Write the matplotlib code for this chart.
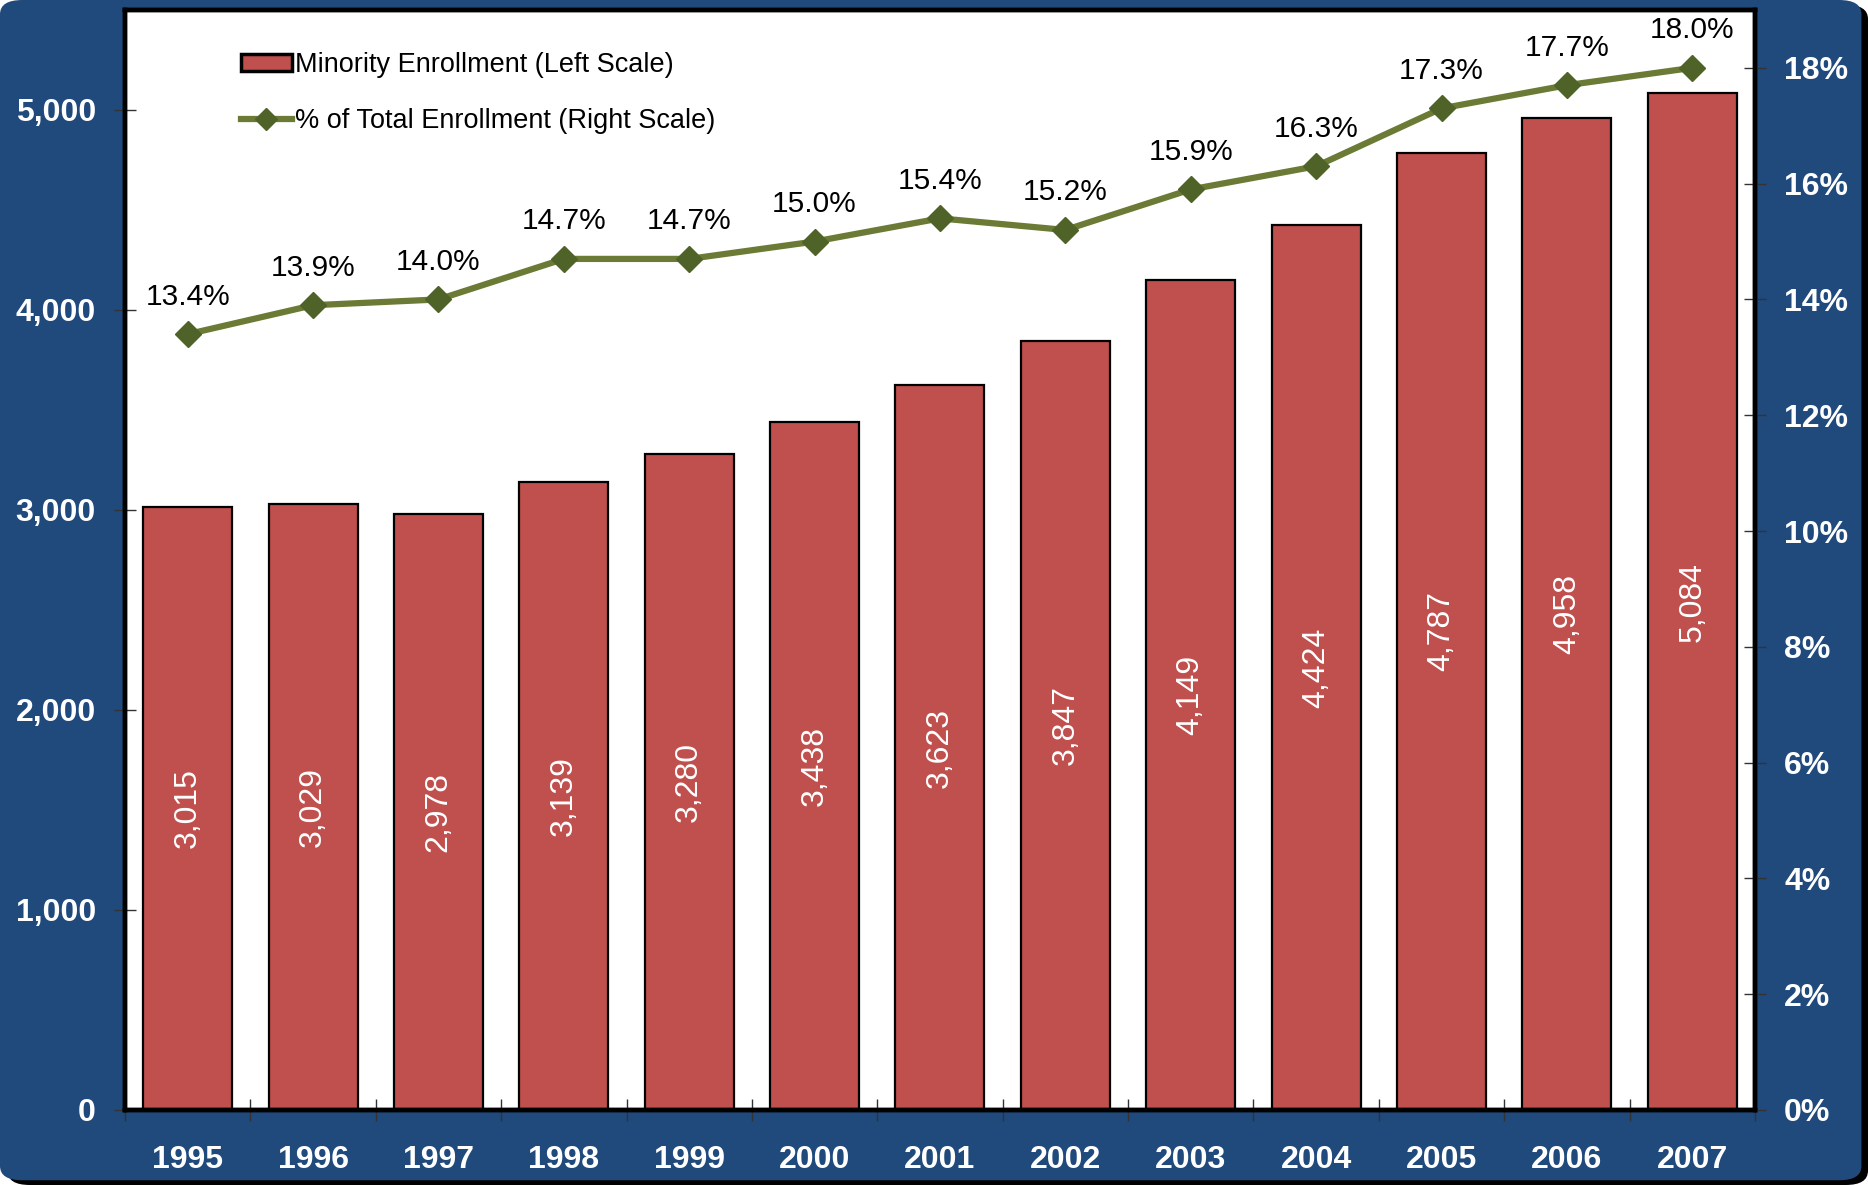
import matplotlib.pyplot as plt
from matplotlib.patches import FancyBboxPatch, Patch
from matplotlib.lines import Line2D
from matplotlib.ticker import FuncFormatter, FixedLocator
import numpy as np

plt.rcParams["font.family"] = ["Liberation Sans", "DejaVu Sans"]

years = ["1995", "1996", "1997", "1998", "1999", "2000", "2001",
         "2002", "2003", "2004", "2005", "2006", "2007"]
enrollment = [3015, 3029, 2978, 3139, 3280, 3438, 3623, 3847, 4149, 4424, 4787, 4958, 5084]
pct_total = [13.4, 13.9, 14.0, 14.7, 14.7, 15.0, 15.4, 15.2, 15.9, 16.3, 17.3, 17.7, 18.0]

BG = "#20497C"
BAR = "#C0504D"
LINE = "#6B7A35"
MARK = "#4F6228"

fig = plt.figure(figsize=(18.68, 11.85), dpi=100, facecolor="white")
# rounded dark-blue panel with a thin shadow
fig.patches.append(FancyBboxPatch((0.004, 0.0), 0.996, 0.996, boxstyle="round,pad=0,rounding_size=0.012",
                                  transform=fig.transFigure, facecolor="black", edgecolor="none", zorder=-20))
fig.patches.append(FancyBboxPatch((0.0, 0.004), 0.9965, 0.996, boxstyle="round,pad=0,rounding_size=0.012",
                                  transform=fig.transFigure, facecolor=BG, edgecolor="none", zorder=-10))

ax = fig.add_axes([0.0669, 0.0633, 0.8726, 0.9283])
ax2 = ax.twinx()
ax2.set_zorder(ax.get_zorder() + 1)
ax.set_facecolor("white")
ax2.patch.set_visible(False)

x = np.arange(len(years))
ax.bar(x, enrollment, width=0.71, color=BAR, edgecolor="black", linewidth=1.6, zorder=2)
for xi, v in zip(x, enrollment):
    ax.text(xi, v / 2, "{:,}".format(v), rotation=90, ha="center", va="center",
            color="white", fontsize=23, zorder=3)

ax.set_xlim(-0.5, len(years) - 0.5)
ax.set_ylim(0, 5500)
ax.set_yticks([0, 1000, 2000, 3000, 4000, 5000])
ax.yaxis.set_major_formatter(FuncFormatter(lambda v, p: "{:,.0f}".format(v)))

ax.xaxis.set_major_locator(FixedLocator(np.arange(-0.5, len(years), 1.0)))
ax.xaxis.set_major_formatter(FuncFormatter(lambda v, p: ""))
ax.set_xticks(x, minor=True)
ax.set_xticklabels(years, minor=True)
ax.tick_params(axis="x", which="major", direction="inout", length=16, width=1, color="#333333")
ax.tick_params(axis="x", which="minor", length=0, pad=25, labelsize=23, labelcolor="white")
for lab in ax.get_xticklabels(minor=True):
    lab.set_fontweight("bold")
ax.tick_params(axis="y", direction="inout", length=16, width=1, color="#333333",
               pad=13, labelsize=23, labelcolor="white")
for lab in ax.get_yticklabels():
    lab.set_fontweight("bold")

ax2.plot(x, pct_total, color=LINE, linewidth=4.5, marker="D", markersize=13,
         markerfacecolor=MARK, markeredgecolor=MARK, zorder=3)
for xi, v in zip(x, pct_total):
    ax2.annotate("{:.1f}%".format(v), (xi, v), xytext=(0, 27), textcoords="offset points",
                 ha="center", va="center", fontsize=21.5, color="black")
ax2.set_ylim(0, 19)
ax2.set_yticks(range(0, 19, 2))
ax2.yaxis.set_major_formatter(FuncFormatter(lambda v, p: "{:.0f}%".format(v)))
ax2.tick_params(axis="y", direction="inout", length=16, width=1, color="#333333",
                pad=13, labelsize=23, labelcolor="white")
for lab in ax2.get_yticklabels():
    lab.set_fontweight("bold")

for a in (ax, ax2):
    for s in a.spines.values():
        s.set_linewidth(3.2)
        s.set_color("black")

handles = [
    Patch(facecolor=BAR, edgecolor="black", linewidth=2.5, label="Minority Enrollment (Left Scale)"),
    Line2D([0], [0], color=LINE, linewidth=4.5, marker="D", markersize=11,
           markerfacecolor=MARK, markeredgecolor=MARK, label="% of Total Enrollment (Right Scale)"),
]
ax2.legend(handles=handles, loc="upper left", bbox_to_anchor=(0.056, 0.984), frameon=False,
           fontsize=19.5, handlelength=1.9, handleheight=0.6, handletextpad=0.1, labelspacing=1.1)

fig.savefig("out.png", dpi=100, facecolor=fig.get_facecolor())
